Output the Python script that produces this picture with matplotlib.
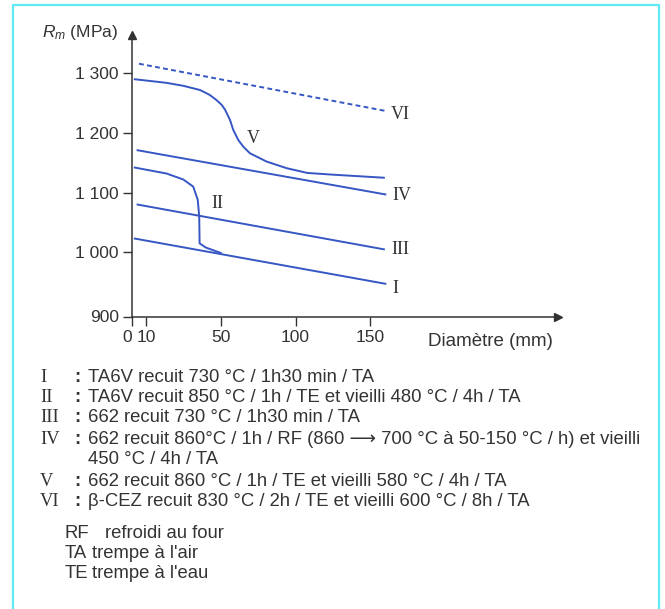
import matplotlib.pyplot as plt
import numpy as np
from matplotlib.lines import Line2D

plt.rcParams['font.family'] = ['Liberation Sans', 'DejaVu Sans']
plt.rcParams['mathtext.fontset'] = 'custom'
plt.rcParams['mathtext.it'] = 'Liberation Sans:italic'
plt.rcParams['mathtext.rm'] = 'Liberation Sans'

# curves: diameter (mm), Rm (MPa)
d_I = [2, 160]
rm_I = [1023, 951]
d_II = [2, 21, 30, 35.3, 37.7, 38.5, 38.7, 42, 50]
rm_II = [1142, 1132, 1122, 1110, 1088, 1060, 1015, 1008, 999]
d_III = [4, 159]
rm_III = [1080, 1005]
d_IV = [4, 160]
rm_IV = [1171, 1097]
d_V = [2, 21, 30, 38.9, 44, 47.8, 50.7, 52.9, 56.2, 58.4, 61.8, 65.1, 69.5, 80.7, 94, 107.8, 125.5, 159]
rm_V = [1290, 1284, 1279, 1272, 1264, 1255, 1247, 1239, 1222, 1205, 1188, 1177, 1166, 1152, 1141, 1133, 1130, 1125]
d_VI = [5, 160]
rm_VI = [1316, 1237]

curve_names = ['I', 'II', 'III', 'IV', 'V', 'VI']
label_d = [167, 48, 170, 171, 72, 170]
label_rm = [944, 1082, 1004, 1096, 1191, 1231]

x_ticks = [0, 10, 50, 100, 150]
y_ticks = [900, 1000, 1100, 1200, 1300]
y_ticklabels = ['900', '1 000', '1 100', '1 200', '1 300']

legend_rows = [
    ('I', ':', 'TA6V recuit 730 °C / 1h30 min / TA'),
    ('II', ':', 'TA6V recuit 850 °C / 1h / TE et vieilli 480 °C / 4h / TA'),
    ('III', ':', '662 recuit 730 °C / 1h30 min / TA'),
    ('IV', ':', '662 recuit 860°C / 1h / RF (860 \u27f6 700 °C à 50-150 °C / h) et vieilli'),
    ('', '', '450 °C / 4h / TA'),
    ('V', ':', '662 recuit 860 °C / 1h / TE et vieilli 580 °C / 4h / TA'),
    ('VI', ':', 'β-CEZ recuit 830 °C / 2h / TE et vieilli 600 °C / 8h / TA'),
]
abbrev = [('RF', 'refroidi au four'), ('TA', 'trempe à l\'air'), ('TE', 'trempe à l\'eau')]

# the printed axes are not linear near 0 and 900: piecewise scales
dk = [0, 10, 50, 275]
pk = [132, 146, 220.7, 557.5]
vk = [900, 1000, 1364]
qk = [-316.5, -252.3, -35.1]

W, H = 665, 609
fig = plt.figure(figsize=(W / 100, H / 100), dpi=100)
ax = fig.add_axes([132 / W, (H - 316.5) / H, (557.5 - 132) / W, (316.5 - 35.1) / H])
ax.set_xscale('function', functions=(lambda x: np.interp(x, dk, pk), lambda p: np.interp(p, pk, dk)))
ax.set_yscale('function', functions=(lambda v: np.interp(v, vk, qk), lambda q: np.interp(q, qk, vk)))

blue = '#3656c4'
ink = '#333333'
ax.plot(d_I, rm_I, color=blue, lw=1.4)
ax.plot(d_II, rm_II, color=blue, lw=1.4)
ax.plot(d_III, rm_III, color=blue, lw=1.4)
ax.plot(d_IV, rm_IV, color=blue, lw=1.4)
ax.plot(d_V, rm_V, color=blue, lw=1.4)
ax.plot(d_VI, rm_VI, color=blue, lw=1.4, linestyle=(0, (2.5, 1.7)))

for name, xd, yd in zip(curve_names, label_d, label_rm):
    ax.text(xd, yd, name, family='Liberation Serif', fontsize=13, color=ink,
            ha='center', va='center')

ax.set_xlim(0, 275)
ax.set_ylim(900, 1364)
ax.set_xticks(x_ticks)
ax.set_xticklabels([str(t) for t in x_ticks])
ax.set_yticks(y_ticks)
ax.set_yticklabels(y_ticklabels)
ax.xaxis.set_minor_locator(plt.NullLocator())
ax.yaxis.set_minor_locator(plt.NullLocator())
ax.tick_params(direction='out', length=6.5, width=1, color=ink, labelcolor=ink,
               labelsize=12.5, pad=3)
ax.get_xticklabels()[0].set_horizontalalignment('right')
for s in ['top', 'right']:
    ax.spines[s].set_visible(False)
for s in ['left', 'bottom']:
    ax.spines[s].set_color(ink)
    ax.spines[s].set_linewidth(1.1)
ax.plot(1, 0, '>', color=ink, ms=6, transform=ax.transAxes, clip_on=False)
ax.plot(0, 1, '^', color=ink, ms=6, transform=ax.transAxes, clip_on=False)

fig.text(42 / W, 1 - 33 / H, '$R_m$ (MPa)', fontsize=12.5, color=ink, va='center')
fig.text(428 / W, 1 - 342 / H, 'Diamètre (mm)', fontsize=13.5, color=ink, va='center')

# legend block under the chart
fs = 13.3
row_y = [377, 397, 417, 439, 460, 482, 502]
for (num, colon, txt), yy in zip(legend_rows, row_y):
    fig.text(40 / W, 1 - yy / H, num, family='Liberation Serif', fontsize=fs,
             color=ink, va='center')
    fig.text(74 / W, 1 - yy / H, colon, fontsize=fs, color=ink, va='center',
             fontweight='bold')
    fig.text(88 / W, 1 - yy / H, txt, fontsize=fs, color=ink, va='center')

ab_y = [533, 553, 573]
for (code, txt), yy in zip(abbrev, ab_y):
    fig.text(65 / W, 1 - yy / H, code, fontsize=fs, color=ink, va='center')
    fig.text((105 if code == 'RF' else 92) / W, 1 - yy / H, txt, fontsize=fs,
             color=ink, va='center')

# cyan frame
cyan = '#5ee9ef'
fig.add_artist(Line2D([13 / W, 13 / W, 659 / W, 659 / W], [0, 1 - 5 / H, 1 - 5 / H, 0],
                      color=cyan, lw=1.6))

fig.savefig('out.png', dpi=100)
